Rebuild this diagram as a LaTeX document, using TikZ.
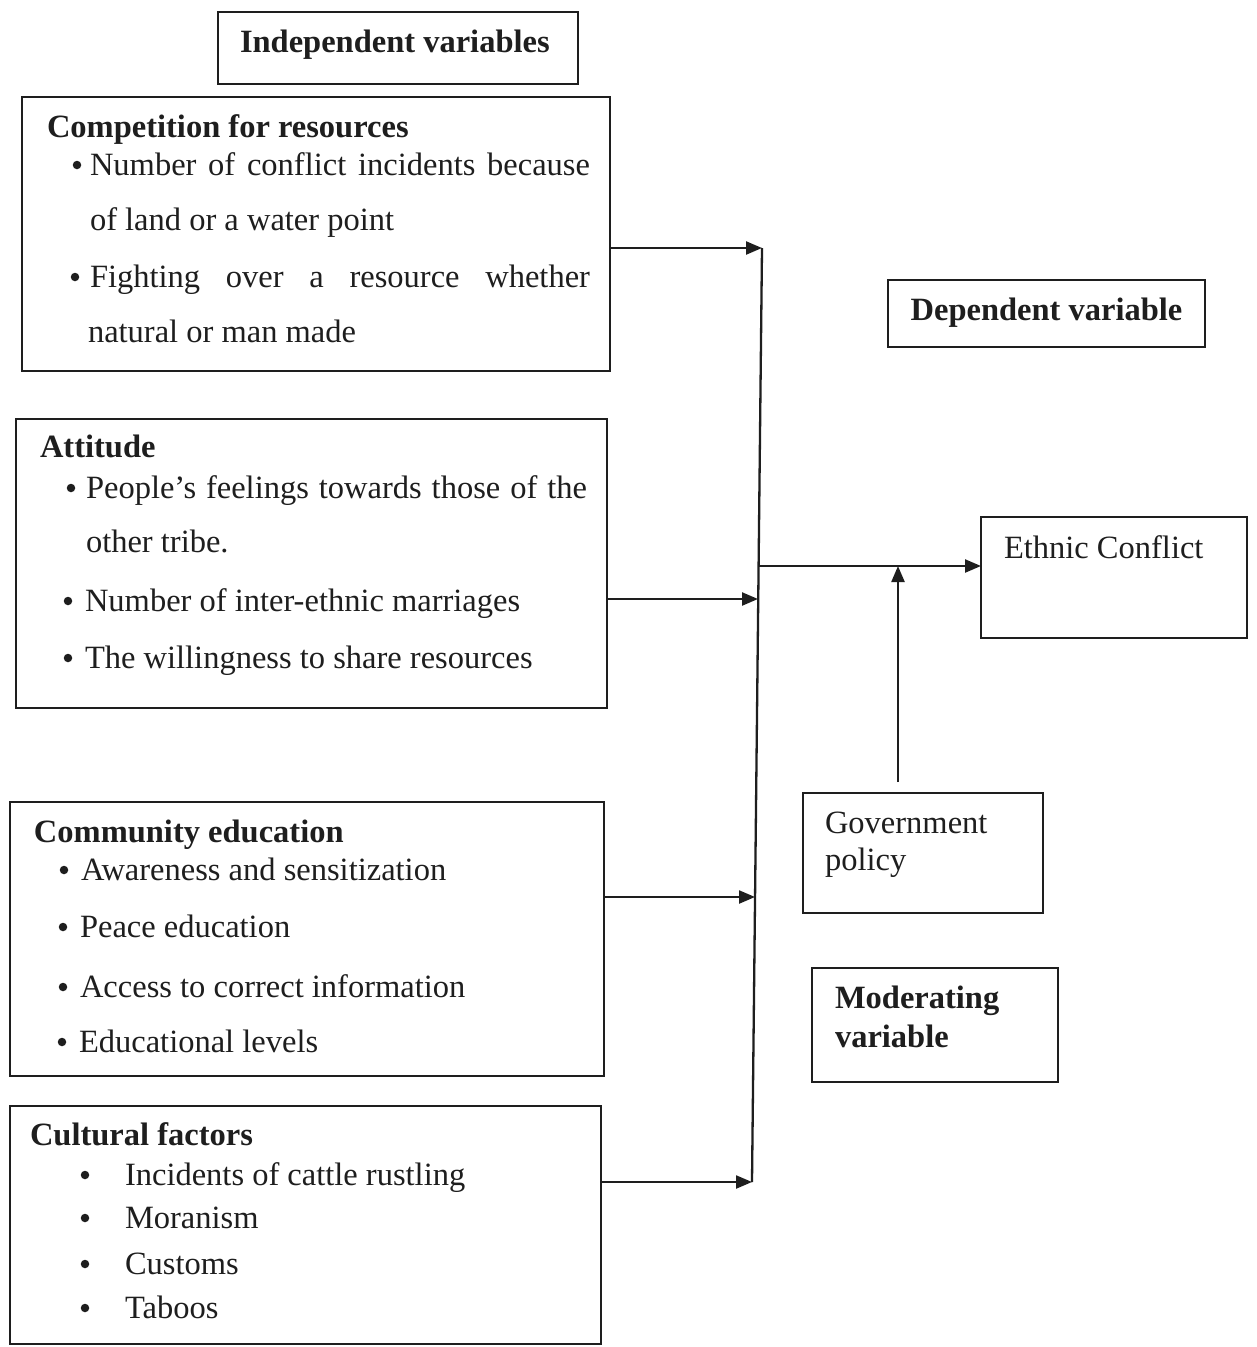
\documentclass[tikz,border=0pt]{standalone}
\usepackage{fontspec}
\setmainfont{Liberation Serif}
\usetikzlibrary{arrows.meta}
\definecolor{ink}{RGB}{30,30,30}
\tikzset{
  boxst/.style={draw=ink, line width=2.3pt, inner sep=0pt, outer sep=0pt, rectangle},
  txt/.style={inner sep=0pt, outer sep=0pt, anchor=base west, text=ink, font=\fontsize{32.5}{38}\selectfont},
  hdr/.style={txt, font=\fontsize{32.5}{38}\selectfont\bfseries},
  bul/.style={circle, fill=ink, inner sep=0pt, outer sep=0pt, minimum size=8.5pt},
  conn/.style={draw=ink, line width=2.3pt},
  arr/.style={conn, -{Triangle[length=16pt,width=13pt]}}
}
\begin{document}
\begin{tikzpicture}[x=1pt,y=-1pt]
\useasboundingbox (0,0) rectangle (1257,1347);
\fill[white] (0,0) rectangle (1257,1347);

% boxes
\node[boxst, minimum width=360pt, minimum height=72pt] (indep) at (398,48) {};
\node[boxst, minimum width=588pt, minimum height=274pt] (comp) at (316,234) {};
\node[boxst, minimum width=591pt, minimum height=289pt] (att) at (311.5,563.5) {};
\node[boxst, minimum width=594pt, minimum height=274pt] (comm) at (307,939) {};
\node[boxst, minimum width=591pt, minimum height=238pt] (cult) at (305.5,1225) {};
\node[boxst, minimum width=317pt, minimum height=67pt] (dep) at (1046.5,313.5) {};
\node[boxst, minimum width=266pt, minimum height=121pt] (eth) at (1114,577.5) {};
\node[boxst, minimum width=240pt, minimum height=120pt] (gov) at (923,853) {};
\node[boxst, minimum width=246pt, minimum height=114pt] (mod) at (935,1025) {};

% headings
\node[hdr] (tindep) at (240,52) {Independent variables};
\node[hdr] (tcomp) at (47,137) {Competition for resources};
\node[hdr] (tatt) at (40,457) {Attitude};
\node[hdr] (tcomm) at (34,842) {Community education};
\node[hdr] (tcult) at (30,1145) {Cultural factors};
\node[hdr, anchor=base] (tdep) at (1046.5,320) {Dependent variable};
\node[hdr] (tmod1) at (835,1008) {Moderating};
\node[hdr] (tmod2) at (835,1047) {variable};
\node[txt] (teth) at (1004,558) {Ethnic Conflict};
\node[txt] (tgov1) at (825,833) {Government};
\node[txt] (tgov2) at (825,870) {policy};

% competition items
\node[bul] (bc1) at (77,165) {};
\node[txt] (c1a) at (90,175) {\makebox[500pt][s]{Number of conflict incidents because}};
\node[txt] (c1b) at (90,230) {of land or a water point};
\node[bul] (bc2) at (75,277) {};
\node[txt] (c2a) at (90,287) {\makebox[500pt][s]{Fighting over a resource whether}};
\node[txt] (c2b) at (88,342) {natural or man made};

% attitude items
\node[bul] (ba1) at (71,488) {};
\node[txt] (a1a) at (86,498) {\makebox[501pt][s]{People’s feelings towards those of the}};
\node[txt] (a1b) at (86,552) {other tribe.};
\node[bul] (ba2) at (68,601) {};
\node[txt] (a2) at (85,611) {Number of inter-ethnic marriages};
\node[bul] (ba3) at (68,658) {};
\node[txt] (a3) at (85,668) {The willingness to share resources};

% community items
\node[bul] (bm1) at (64,870) {};
\node[txt] (m1) at (81,880) {Awareness and sensitization};
\node[bul] (bm2) at (63,927) {};
\node[txt] (m2) at (80,937) {Peace education};
\node[bul] (bm3) at (63,987) {};
\node[txt] (m3) at (80,997) {Access to correct information};
\node[bul] (bm4) at (62,1042) {};
\node[txt] (m4) at (79,1052) {Educational levels};

% cultural items
\node[bul] (bu1) at (85,1175) {};
\node[txt] (u1) at (125,1185) {Incidents of cattle rustling};
\node[bul] (bu2) at (85,1218) {};
\node[txt] (u2) at (125,1228) {Moranism};
\node[bul] (bu3) at (85,1264) {};
\node[txt] (u3) at (125,1274) {Customs};
\node[bul] (bu4) at (85,1308) {};
\node[txt] (u4) at (125,1318) {Taboos};

% bus coordinates
\coordinate (b1) at (762,248);
\coordinate (b0) at (759,566);
\coordinate (b2) at (758,599);
\coordinate (b3) at (755,897);
\coordinate (b4) at (752,1182);
\coordinate (g) at (898,782);

% connectors
\draw[conn] (b1) -- (b4);
\draw[arr] (comp.east |- b1) -- (b1);
\draw[arr] (att.east |- b2) -- (b2);
\draw[arr] (comm.east |- b3) -- (b3);
\draw[arr] (cult.east |- b4) -- (b4);
\draw[arr] (b0) -- (eth.west |- b0);
\draw[arr] (g) -- (g |- b0);
\end{tikzpicture}
\end{document}
